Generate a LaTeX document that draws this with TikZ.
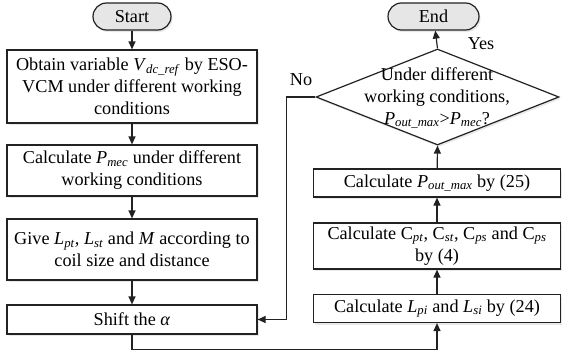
\documentclass[tikz,border=0pt]{standalone}
\usepackage{fontspec}
\setmainfont{Liberation Serif}
\usetikzlibrary{arrows.meta,shapes.geometric,shadows}
\definecolor{ln}{HTML}{222222}
\definecolor{term}{HTML}{E6E6E6}
\newcommand{\vr}[2]{\textit{#1}\textsubscript{\textit{#2}}}
\tikzset{
  txt/.style={font=\fontsize{18.2}{22}\selectfont},
  shad/.style={drop shadow={opacity=0.18, shadow xshift=1.5pt, shadow yshift=-2pt}},
  box/.style={draw=ln, fill=white, shad, line width=1.2pt, rectangle, inner sep=0pt, align=center, txt},
  lbox/.style={box, minimum width=250pt},
  rbox/.style={box, minimum width=247pt},
  term/.style={draw=ln, line width=1.2pt, fill=term, shad, rounded corners=13.5pt, minimum width=78pt, minimum height=27pt, inner sep=0pt, txt},
  arr/.style={draw=ln, line width=1.2pt, -{Triangle[length=8pt,width=7pt]}},
  lab/.style={txt, inner sep=0pt}
}
\begin{document}
\begin{tikzpicture}[x=1pt,y=-1pt]
\useasboundingbox (0,0) rectangle (562,356);
\node[term] (start) at (132,16.5) {Start};
\node[lbox, minimum height=73pt] (b1) at (132,86.5) {Obtain variable \vr{V}{dc\_ref} by ESO-\\VCM under different working\\conditions};
\node[lbox, minimum height=51pt] (b2) at (132,170.5) {Calculate \vr{P}{mec} under different\\working conditions};
\node[lbox, minimum height=61pt] (b3) at (132,249.5) {Give \vr{L}{pt}, \vr{L}{st} and \textit{M} according to\\coil size and distance};
\node[lbox, minimum height=29pt] (b4) at (132,319.5) {Shift the \textit{α}};

\node[term, minimum width=91pt] (end) at (433.5,16.5) {End};
\node[draw=ln, fill=white, shad, line width=1.2pt, diamond, minimum width=243pt, minimum height=96pt, inner sep=0pt] (dec) at (437.5,97) {};
\node[align=center, txt, inner sep=0pt] (dect) at (437,98) {Under different\\working conditions,\\\vr{P}{out\_max}>\vr{P}{mec}?};
\node[rbox, minimum height=28pt] (pout) at (437,183) {Calculate \vr{P}{out\_max} by (25)};
\node[rbox, minimum height=46pt] (cc) at (437,246) {Calculate C\textsubscript{\textit{pt}}, C\textsubscript{\textit{st}}, C\textsubscript{\textit{ps}} and C\textsubscript{\textit{ps}}\\by (4)};
\node[rbox, minimum height=28pt] (lpi) at (437,308.5) {Calculate \vr{L}{pi} and \vr{L}{si} by (24)};

\node[lab] (yes) at (481,44) {Yes};
\node[lab] (no) at (301,80) {No};

\draw[arr] (start) -- (b1);
\draw[arr] (b1) -- (b2);
\draw[arr] (b2) -- (b3);
\draw[arr] (b3) -- (b4);
\draw[arr] (b4.south) -- ++(0,15) -| (lpi.south);
\draw[arr] (lpi) -- (cc);
\draw[arr] (cc) -- (pout);
\draw[arr] (pout) -- (dec.south);
\draw[arr] (dec.north) -- (end);
\draw[arr] (dec.west) -- ++(-29,0) |- (b4.east);
\end{tikzpicture}
\end{document}
